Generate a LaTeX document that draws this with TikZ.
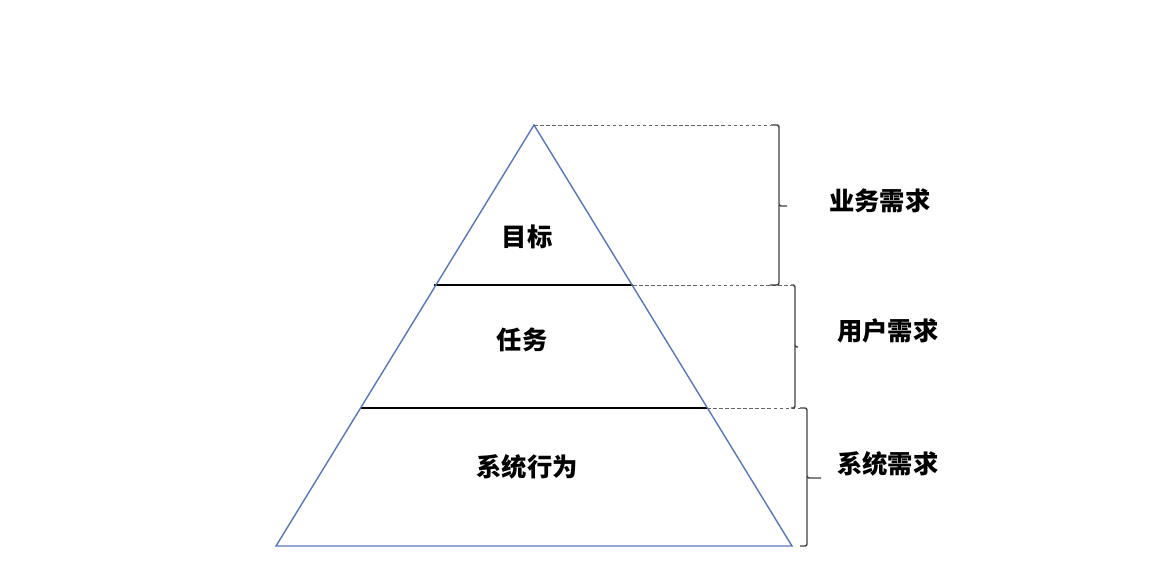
\documentclass[tikz,border=0pt]{standalone}
\usepackage{fontspec}
\newfontfamily\cjk{Noto Sans CJK SC}
\usetikzlibrary{positioning}
\definecolor{edgeblue}{RGB}{86,118,190}

\begin{document}
\begin{tikzpicture}[
    x=0.025cm, y=-0.025cm,
    edge/.style={draw=edgeblue, line width=1pt, line join=miter},
    level/.style={draw=black, line width=1.4pt},
    guide/.style={draw=gray!80!black, dashed, dash pattern=on 2.5pt off 1.8pt, line width=0.6pt},
    bracket/.style={draw=black!75, line width=1pt, rounded corners=1.5pt},
    tier/.style={font=\cjk\bfseries\fontsize{18pt}{20pt}\selectfont, inner sep=0pt},
    need/.style={font=\cjk\bfseries\fontsize{18pt}{20pt}\selectfont, inner sep=0pt, anchor=west}
]
\useasboundingbox (0,0) rectangle (1170,579);

%% ─── PYRAMID ─────────────────────────────────────────────────
\coordinate (apex)  at (534,125);
\coordinate (baseL) at (276,546);
\coordinate (baseR) at (792,546);
\coordinate (midL)  at (434,285);
\coordinate (midR)  at (633,285);
\coordinate (lowL)  at (361,408);
\coordinate (lowR)  at (707,408);

\draw[level] (midL) -- (midR);
\draw[level] (lowL) -- (lowR);
\draw[edge] (baseL) -- (apex) -- (baseR) -- cycle;

\node[tier] (goal)   at (527,237) {目标};
\node[tier] (task)   at (522,340) {任务};
\node[tier] (action) at (527,467) {系统行为};

%% ─── GUIDES AND BRACES ───────────────────────────────────────
\coordinate (topB)  at (771,125);
\coordinate (midB)  at (791,285);
\coordinate (lowB)  at (800,408);
\coordinate (endB)  at (800,546);

\draw[guide] (apex) -- (topB);
\draw[guide] (midR) -- (midB);
\draw[guide] (lowR) -- (lowB);

% business
\draw[bracket] (topB) -| (779,206) -- (787,206);
\draw[bracket] (779,205) |- (770,285);
% user
\draw[bracket] (midB) -| (795,347) -- (798,347);
\draw[bracket] (795,346) |- (791,408);
% system
\draw[bracket] (lowB) -| (807,478) -- (821,478);
\draw[bracket] (807,477) |- (800,546);

\node[need] (business) at (829,201) {业务需求};
\node[need] (user)     at (837,331) {用户需求};
\node[need] (system)   at (837,464) {系统需求};

\end{tikzpicture}
\end{document}
